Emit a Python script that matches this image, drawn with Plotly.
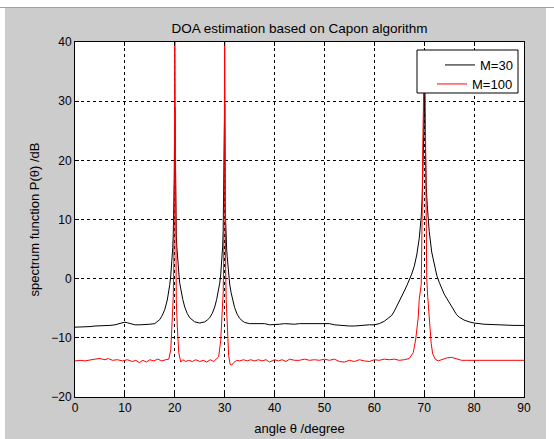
import plotly.graph_objects as go

# ---- data ----
theta_m30 = [0, 1, 2, 3, 4, 5, 6, 7, 8, 9, 9.5, 10, 10.5, 11, 12, 13, 14, 15, 16, 16.5, 17, 17.5,
             18, 18.5, 18.8, 19.0, 19.2, 19.4, 19.5, 19.6, 19.7, 19.8, 19.9, 20.0, 20.1, 20.2, 20.3,
             20.4, 20.5, 20.7, 20.9, 21.0, 21.3, 21.6, 22.0, 22.5, 23.0, 23.5, 24, 25, 26, 26.5, 27,
             27.5, 28, 28.4, 28.7, 29.0, 29.2, 29.4, 29.5, 29.6, 29.7, 29.8, 29.9, 30.0, 30.1, 30.2,
             30.3, 30.4, 30.5, 30.7, 30.9, 31.0, 31.3, 31.6, 32, 32.5, 33, 33.5, 34, 35, 36, 37, 38,
             39, 40, 41, 42, 43, 44, 45, 46, 47, 48, 49, 50, 51, 52, 53, 54, 55, 56, 57, 58, 59, 60,
             61, 62, 62.5, 63, 63.5, 64, 64.5, 65, 65.5, 66, 66.5, 67, 67.5, 68, 68.5, 69, 69.2, 69.4,
             69.6, 69.7, 69.8, 69.9, 70.0, 70.1, 70.2, 70.3, 70.4, 70.6, 70.8, 71.0, 71.5, 72, 72.5,
             73, 73.5, 74, 74.5, 75, 75.5, 76, 76.5, 77, 78, 79, 80, 82, 84, 86, 88, 90]
p_m30 = [-8.2, -8.2, -8.1, -8.1, -8.0, -8.0, -7.9, -7.9, -7.8, -7.6, -7.45, -7.35, -7.45, -7.6, -7.8,
         -7.8, -7.8, -7.7, -7.6, -7.3, -6.9, -6.2, -5.2, -3.6, -2.4, -1.0, 0.6, 2.5, 3.8, 5.3, 7.5,
         11.5, 17.0, 29.0, 16.0, 10.5, 7.5, 5.5, 4.0, 1.8, 0.0, -0.8, -2.3, -3.5, -4.8, -5.9, -6.6,
         -7.0, -7.3, -7.5, -7.3, -7.0, -6.6, -5.9, -4.8, -3.5, -2.3, -0.8, 0.6, 2.5, 3.8, 5.5, 8.0,
         17.0, 21.0, 29.5, 12.0, 8.5, 6.5, 5.0, 3.8, 1.5, -0.2, -0.9, -2.4, -3.6, -4.9, -6.0, -6.7,
         -7.1, -7.4, -7.6, -7.6, -7.5, -7.6, -7.8, -7.8, -7.7, -7.6, -7.7, -7.7, -7.6, -7.6, -7.5,
         -7.5, -7.5, -7.5, -7.6, -7.8, -7.9, -8.0, -8.0, -8.0, -7.9, -7.9, -7.8, -7.8, -7.6, -7.2,
         -6.9, -6.6, -6.2, -5.5, -4.7, -3.8, -3.0, -2.1, -1.2, -0.3, 0.8, 2.1, 4.0, 6.8, 8.5, 10.5,
         14.0, 16.5, 20.5, 24.5, 32.0, 26.0, 21.0, 18.0, 15.5, 12.5, 10.0, 8.0, 4.5, 2.2, 0.6, -0.6,
         -1.7, -2.6, -3.3, -4.0, -4.8, -5.5, -6.1, -6.5, -7.0, -7.3, -7.5, -7.7, -7.8, -7.85, -7.9,
         -7.9]

theta_m100 = [0, 1, 2, 3, 4, 5, 6, 6.7, 7.5, 8.5, 9.5, 10.5, 11.5, 12.2, 12.9, 13.6, 14.3, 15, 15.8,
              16.6, 17.4, 18.2, 18.8, 19.2, 19.5, 19.7, 19.8, 19.9, 20.0, 20.1, 20.2, 20.3, 20.5,
              20.8, 21.2, 21.6, 22.2, 22.8, 23.5, 24.2, 25, 25.7, 26.4, 27.1, 27.8, 28.4, 28.8, 29.2,
              29.5, 29.7, 29.8, 29.9, 30.0, 30.1, 30.2, 30.3, 30.5, 30.8, 31.1, 31.4, 31.8, 32.4, 33,
              33.8, 34.5, 35.2, 36, 36.8, 37.5, 38.3, 39, 40, 40.8, 41.5, 42.3, 43, 44, 45, 46, 47,
              48, 49, 50, 51, 52, 53, 54, 55, 56, 57, 58, 59, 60, 61, 62, 63, 64, 65, 66, 67, 67.8,
              68.3, 68.8, 69.0, 69.4, 69.5, 69.6, 69.7, 69.8, 70.0, 70.2, 70.3, 70.4, 70.5, 70.7,
              71.0, 71.4, 71.7, 72.2, 72.8, 73.5, 74.5, 75.5, 76.5, 77.5, 78.5, 80, 82, 84, 86, 88, 90]
p_m100 = [-13.9, -13.8, -13.9, -13.7, -13.6, -13.5, -13.7, -13.5, -13.8, -13.7, -13.9, -13.7, -14.0,
          -13.8, -14.2, -13.8, -14.1, -13.7, -13.9, -13.6, -13.9, -13.7, -13.6, -12.0, -7.5, -3.0,
          2.0, 12.0, 45.0, 14.0, 3.0, -3.5, -8.0, -12.5, -14.1, -13.7, -14.0, -13.8, -14.0, -13.7,
          -14.0, -13.8, -14.1, -13.7, -14.0, -13.6, -13.2, -10.5, -6.5, -2.5, 2.5, 12.0, 45.0, 12.0,
          1.5, -3.5, -8.5, -13.0, -14.5, -14.6, -14.2, -13.8, -13.9, -13.7, -13.9, -13.7, -13.9,
          -13.7, -13.9, -13.7, -14.1, -13.7, -13.9, -13.7, -14.0, -13.6, -13.8, -13.8, -13.6, -13.8,
          -13.7, -13.8, -13.6, -13.8, -13.6, -14.0, -14.1, -13.8, -14.0, -13.7, -13.9, -14.0, -13.7,
          -13.8, -13.6, -13.7, -13.6, -13.8, -13.7, -13.5, -12.5, -10.2, -6.5, -3.5, -1.0, 3.0,
          12.0, 22.0, 31.0, 37.0, 31.0, 20.0, 5.0, 0.0, -3.0, -6.8, -11.0, -12.7, -13.6, -13.9,
          -13.7, -13.4, -13.3, -13.5, -13.8, -13.8, -13.8, -13.85, -13.9, -13.85, -13.9, -13.8]

series_names = ["M=30", "M=100"]
series_colors = ["#000000", "#ff0000"]

title_text = "DOA estimation based on Capon algorithm"
x_title = "angle θ /degree"
y_title = "spectrum function P(θ) /dB"

FONT = "Liberation Sans, Arial, sans-serif"

fig = go.Figure()
fig.add_trace(go.Scatter(x=theta_m30, y=p_m30, mode="lines", name=series_names[0],
                         line=dict(color=series_colors[0], width=1), legend="legend"))
fig.add_trace(go.Scatter(x=theta_m100, y=p_m100, mode="lines", name=series_names[1],
                         line=dict(color=series_colors[1], width=1), legend="legend2"))

W, H = 554, 439
L, R, T, B = 75, 30, 42, 42
pw, ph = W - L - R, H - T - B


def px_x(p):
    return (p - L) / pw


def px_y(p):
    return (H - B - p) / ph


# figure window background
fig.add_shape(type="rect", xref="paper", yref="paper", layer="below",
              x0=px_x(5), x1=px_x(546), y0=px_y(439), y1=px_y(8),
              fillcolor="#cccccc", line=dict(width=0))
fig.add_shape(type="line", xref="paper", yref="paper", layer="below",
              x0=px_x(0), x1=px_x(554), y0=px_y(7.5), y1=px_y(7.5),
              line=dict(color="#a0a0a0", width=1))
fig.add_shape(type="rect", xref="paper", yref="paper", layer="below",
              x0=0, x1=1, y0=0, y1=1, fillcolor="#ffffff", line=dict(width=0))
# legend box (drawn over the curves, legend entries sit on top of it)
fig.add_shape(type="rect", xref="paper", yref="paper", layer="above",
              x0=px_x(417), x1=px_x(518), y0=px_y(93), y1=px_y(50),
              fillcolor="#ffffff", line=dict(color="#000000", width=1))

axis_common = dict(
    showline=True, linecolor="#000000", linewidth=1, mirror="allticks",
    ticks="inside", ticklen=4, tickcolor="#000000", tickwidth=1,
    showgrid=True, gridcolor="#000000", gridwidth=1, griddash="3px,3px",
    zeroline=False, dtick=10, automargin=False,
    tickfont=dict(family=FONT, size=12, color="#000000"),
)

legend_common = dict(
    xanchor="right", x=px_x(518), yanchor="top",
    bgcolor="rgba(0,0,0,0)", borderwidth=0,
    font=dict(family=FONT, size=13, color="#000000"),
    itemwidth=30, entrywidth=60,
)

fig.update_layout(
    width=W, height=H,
    margin=dict(l=L, r=R, t=T, b=B, autoexpand=False),
    paper_bgcolor="#ffffff", plot_bgcolor="#ffffff",
    title=dict(text=title_text, x=0.5, xref="paper", xanchor="center",
               y=1 - 28 / H, yanchor="middle", automargin=False,
               font=dict(family=FONT, size=13.5, color="#000000")),
    xaxis=dict(range=[0, 90], tick0=0,
               title=dict(text=x_title, font=dict(family=FONT, size=13, color="#000000"), standoff=9),
               **axis_common),
    yaxis=dict(range=[-20, 40], tick0=-20,
               title=dict(text=y_title, font=dict(family=FONT, size=13, color="#000000"), standoff=8),
               **axis_common),
    legend=dict(y=px_y(50), **legend_common),
    legend2=dict(y=px_y(69), **legend_common),
    showlegend=True,
)

fig.write_html("out.html", config={"displayModeBar": False},
               post_script="document.body.style.margin='0';document.body.style.overflow='hidden';")
